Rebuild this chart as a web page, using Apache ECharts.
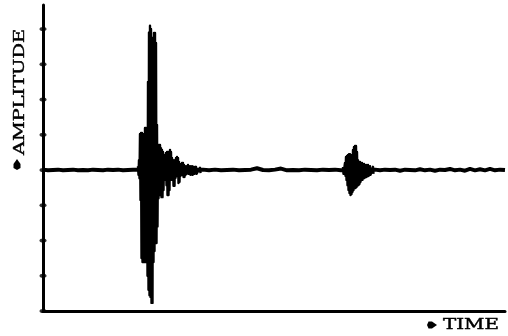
<!DOCTYPE html>
<html>
<head>
<meta charset="utf-8">
<script src="https://cdn.jsdelivr.net/npm/echarts@6/dist/echarts.min.js"></script>
<style>
  html, body { margin: 0; padding: 0; background: #fff; }
  #chart { width: 508px; height: 336px; }
</style>
</head>
<body>
<div id="chart"></div>
<script>
// Amplitude tick positions along the vertical axis
const ampTicks = [-4, -3, -2, -1, 0, 1, 2, 3, 4];

// Quiet trace between events: [start time, step, values]
const quietLeadStart = 0, quietLeadStep = 5;
const quietLead = [0.01, -0.01, 0.00, 0.01, -0.01, 0.00, 0.01, -0.01, 0.00, -0.01,
                   0.01, 0.00, -0.01, 0.01, 0.00, 0.01, -0.01, 0.00, 0.01];
const quietMidStart = 160, quietMidStep = 6;
const quietMid = [0.01, -0.01, 0.01, -0.01, 0.00, 0.01, -0.01, 0.00, 0.01, 0.05,
                  0.00, -0.01, 0.01, 0.04, -0.01, 0.00, -0.01, 0.01, 0.00, -0.01,
                  0.01, 0.00, 0.01, -0.01];
const quietTailStart = 332, quietTailStep = 5;
const quietTail = [0.01, -0.01, 0.01, 0.00, 0.01, -0.02, 0.01, 0.00, -0.01, 0.02,
                   -0.01, 0.01, -0.02, 0.01, 0.00, 0.03, -0.01, 0.01, -0.02, 0.03,
                   -0.01, 0.02, -0.01, 0.03, -0.01, 0.01, 0.00];

// First event: time, upper and lower swing of each cycle
const burst1Time = [95, 96, 97, 98, 99, 100, 101, 102, 103, 104, 105, 106, 107, 108,
                    109, 110, 111, 112, 113, 114, 115, 116, 117, 118, 119, 120, 121,
                    122, 123, 124, 125, 126, 127, 128, 129, 130, 131, 132, 133, 134,
                    135, 136, 137, 138, 139, 140, 141, 142, 143, 145, 147, 149, 151,
                    153, 157];
const burst1Up = [0.11, 0.28, 1.02, 1.05, 1.05, 1.02, 1.02, 1.19, 1.19, 1.19, 2.50,
                  3.90, 4.09, 4.00, 3.55, 3.75, 3.89, 3.89, 3.60, 1.28, 0.71, 0.71,
                  0.71, 0.62, 0.57, 0.51, 0.43, 0.34, 0.48, 0.51, 0.51, 0.43, 0.57,
                  0.51, 0.34, 0.28, 0.28, 0.23, 0.34, 0.37, 0.34, 0.23, 0.17, 0.14,
                  0.20, 0.20, 0.14, 0.11, 0.11, 0.14, 0.11, 0.11, 0.09, 0.09, 0.06];
const burst1Down = [-0.14, -0.23, -0.85, -2.50, -2.61, -2.61, -2.61, -2.61, -2.61,
                    -3.00, -3.40, -3.55, -3.60, -3.77, -3.77, -2.61, -2.30, -2.07,
                    -2.07, -1.60, -0.80, -0.71, -0.71, -0.77, -0.77, -0.57, -0.28,
                    -0.23, -0.43, -0.71, -0.71, -0.57, -0.28, -0.17, -0.28, -0.45,
                    -0.45, -0.23, -0.14, -0.17, -0.37, -0.34, -0.17, -0.11, -0.14,
                    -0.20, -0.20, -0.14, -0.11, -0.11, -0.14, -0.14, -0.11, -0.11,
                    -0.09];

// Second, weaker event
const burst2Time = [300, 302, 303, 304, 305, 306, 307, 308, 309, 310, 311, 312, 313,
                    314, 315, 316, 317, 319, 321, 323, 325, 327, 330];
const burst2Up = [0.09, 0.20, 0.37, 0.40, 0.43, 0.45, 0.45, 0.43, 0.40, 0.57, 0.65,
                  0.68, 0.68, 0.51, 0.28, 0.23, 0.23, 0.20, 0.17, 0.14, 0.14, 0.11,
                  0.09];
const burst2Down = [-0.11, -0.17, -0.28, -0.43, -0.57, -0.65, -0.71, -0.68, -0.62,
                    -0.57, -0.51, -0.51, -0.48, -0.45, -0.43, -0.40, -0.34, -0.28,
                    -0.23, -0.20, -0.17, -0.14, -0.11];

function quietPoints(start, step, values) {
  return values.map((v, i) => [start + i * step, v]);
}
function swingPoints(times, up, down) {
  const pts = [];
  times.forEach((t, i) => {
    pts.push([t, up[i]]);
    pts.push([t + 0.5, down[i]]);
  });
  return pts;
}

const traceData = []
  .concat(quietPoints(quietLeadStart, quietLeadStep, quietLead))
  .concat(quietPoints(quietMidStart, quietMidStep, quietMid))
  .concat(quietPoints(quietTailStart, quietTailStep, quietTail));

const eventData = swingPoints(burst1Time, burst1Up, burst1Down)
  .concat([[null, null]])
  .concat(swingPoints(burst2Time, burst2Up, burst2Down));

const chart = echarts.init(document.getElementById('chart'), null, { renderer: 'canvas' });

const serif = '"DejaVu Serif", "Liberation Serif", serif';

chart.setOption({
  animation: false,
  backgroundColor: '#ffffff',
  grid: { left: 43, right: 3, top: 5, bottom: 25 },
  xAxis: {
    type: 'value',
    min: 0,
    max: 462,
    axisLine: { show: true, onZero: false, lineStyle: { color: '#000', width: 3 } },
    axisTick: { show: false },
    axisLabel: { show: false },
    splitLine: { show: false }
  },
  yAxis: {
    type: 'value',
    min: -4,
    max: 4.68,
    axisLine: { show: true, lineStyle: { color: '#000', width: 3 } },
    axisTick: { show: false },
    axisLabel: { show: false },
    splitLine: { show: false }
  },
  series: [
    {
      name: 'trace',
      type: 'line',
      data: traceData,
      showSymbol: false,
      lineStyle: { color: '#000', width: 4 },
      z: 2
    },
    {
      name: 'events',
      type: 'line',
      data: eventData,
      showSymbol: false,
      connectNulls: false,
      lineStyle: { color: '#000', width: 2.4, join: 'round' },
      z: 3
    },
    {
      name: 'ticks',
      type: 'scatter',
      data: ampTicks.map(v => [0, v]),
      symbol: 'circle',
      symbolSize: [7, 4],
      clip: false,
      itemStyle: { color: '#000' },
      z: 4
    }
  ],
  graphic: [
    {
      type: 'text',
      x: 20,
      y: 92,
      rotation: Math.PI / 2,
      scaleX: 1.38,
      style: {
        text: 'AMPLITUDE',
        font: '14px ' + serif,
        fill: '#000',
        stroke: '#000',
        lineWidth: 0.4,
        align: 'center',
        verticalAlign: 'middle'
      }
    },
    {
      type: 'polygon',
      shape: { points: [[17, 159], [20.5, 164], [20.5, 168], [17, 170], [13.5, 168], [13.5, 164]] },
      style: { fill: '#000' }
    },
    {
      type: 'text',
      x: 471,
      y: 325,
      scaleX: 1.42,
      style: {
        text: 'TIME',
        font: '14px ' + serif,
        fill: '#000',
        stroke: '#000',
        lineWidth: 0.4,
        align: 'center',
        verticalAlign: 'middle'
      }
    },
    {
      type: 'polygon',
      shape: { points: [[437, 325], [432, 321.5], [428.5, 321.5], [427, 325], [428.5, 328.5], [432, 328.5]] },
      style: { fill: '#000' }
    }
  ]
});
</script>
</body>
</html>
